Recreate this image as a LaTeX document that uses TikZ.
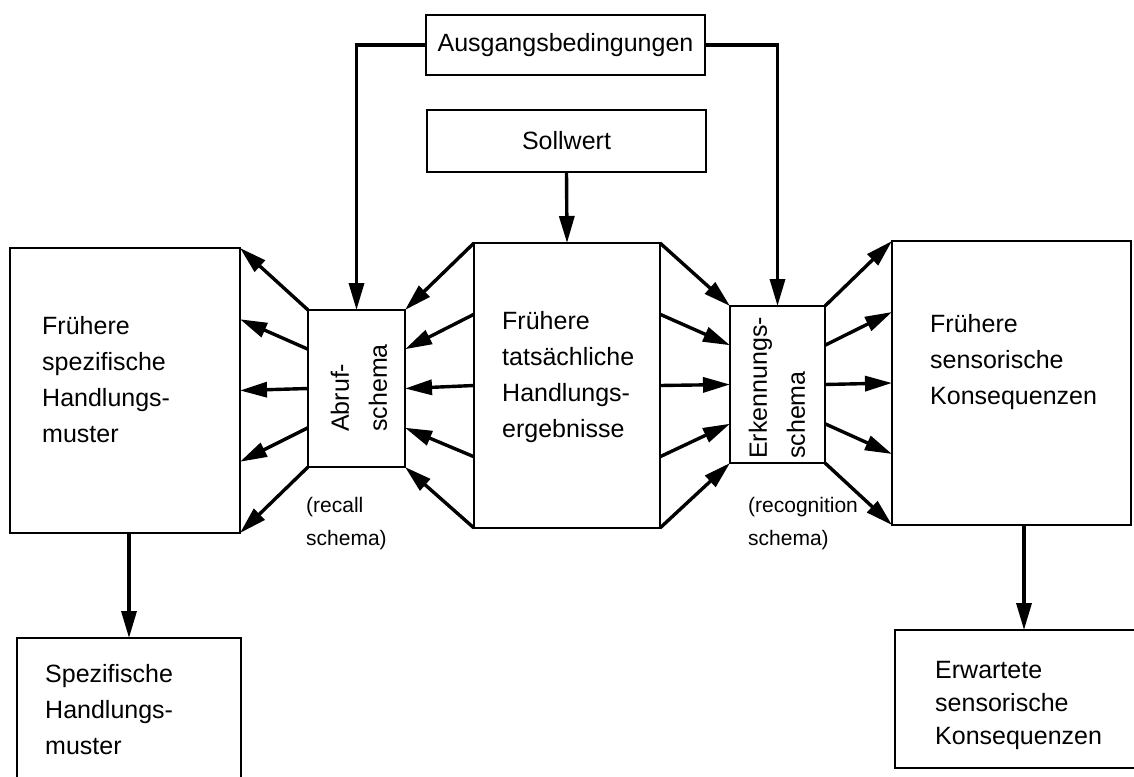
\documentclass[tikz,border=0pt]{standalone}
\usepackage{fontspec}
\setmainfont{Liberation Sans}
\usetikzlibrary{arrows.meta,calc}
\begin{document}
\begin{tikzpicture}[x=1pt,y=-1pt,
  box/.style={draw,line width=2.2pt,rectangle,inner sep=0pt,outer sep=0pt,font=\fontsize{25}{36}\selectfont},
  txt/.style={anchor=west,align=left,inner sep=0pt,font=\fontsize{25}{36}\selectfont},
  rtxt/.style={align=left,inner sep=0pt,rotate=90,font=\fontsize{25}{38}\selectfont},
  lbl/.style={anchor=west,align=left,inner sep=0pt,font=\fontsize{21}{33}\selectfont},
  arr/.style={line width=3.4pt,-{Triangle[length=27pt,width=15pt]}},
]
\clip (0,0) rectangle (1134,776);
% boxes
\node[box,minimum width=279pt,minimum height=60pt] (A) at (565.5,45) {Ausgangsbedingungen};
\node[box,minimum width=279pt,minimum height=62pt] (S) at (566.5,141) {Sollwert};
\node[box,minimum width=230pt,minimum height=285pt] (L) at (125,390.5) {};
\node[box,minimum width=97pt,minimum height=157pt] (AB) at (356.5,388.5) {};
\node[box,minimum width=186pt,minimum height=285pt] (C) at (567,385.5) {};
\node[box,minimum width=95pt,minimum height=157pt] (E) at (777.5,384.5) {};
\node[box,minimum width=239pt,minimum height=284pt] (R) at (1011.5,383) {};
\node[box,minimum width=224pt,minimum height=162pt] (SP) at (129,719) {};
\node[box,minimum width=258pt,minimum height=138pt] (EW) at (1024,699) {};
% texts
\node[txt] (tL) at (42,380) {Frühere\\spezifische\\Handlungs-\\muster};
\node[txt] (tC) at (502,377) {Frühere\\tatsächliche\\Handlungs-\\ergebnisse};
\node[txt] (tR) at (930,362) {Frühere\\sensorische\\Konsequenzen};
\node[txt] (tSP) at (45,710) {Spezifische\\Handlungs-\\muster};
\node[txt,font=\fontsize{25}{33}\selectfont] (tEW) at (935,705) {Erwartete\\sensorische\\Konsequenzen};
\node[rtxt] (tAB) at (359,388) {Abruf-\\schema};
\node[rtxt] (tE) at (777,388) {Erkennungs-\\schema};
\node[lbl] (lAB) at (306,524) {(recall\\schema)};
\node[lbl] (lE) at (748,524) {(recognition\\schema)};
% connectors
\draw[arr] (A.west) -| (AB.north);
\draw[arr] (A.east) -| (E.north);
\draw[arr] (S.south) -- (C.north);
\draw[arr] (L.south -| SP.north) -- (SP.north);
\draw[arr] (R.south -| EW.north) -- (EW.north);
\foreach \k in {0,0.25,0.5,0.75,1} {
  \draw[arr] ($(AB.north west)!\k!(AB.south west)$) -- ($(L.north east)!\k!(L.south east)$);
  \draw[arr] ($(C.north west)!\k!(C.south west)$) -- ($(AB.north east)!\k!(AB.south east)$);
  \draw[arr] ($(C.north east)!\k!(C.south east)$) -- ($(E.north west)!\k!(E.south west)$);
  \draw[arr] ($(E.north east)!\k!(E.south east)$) -- ($(R.north west)!\k!(R.south west)$);
}
\end{tikzpicture}
\end{document}
